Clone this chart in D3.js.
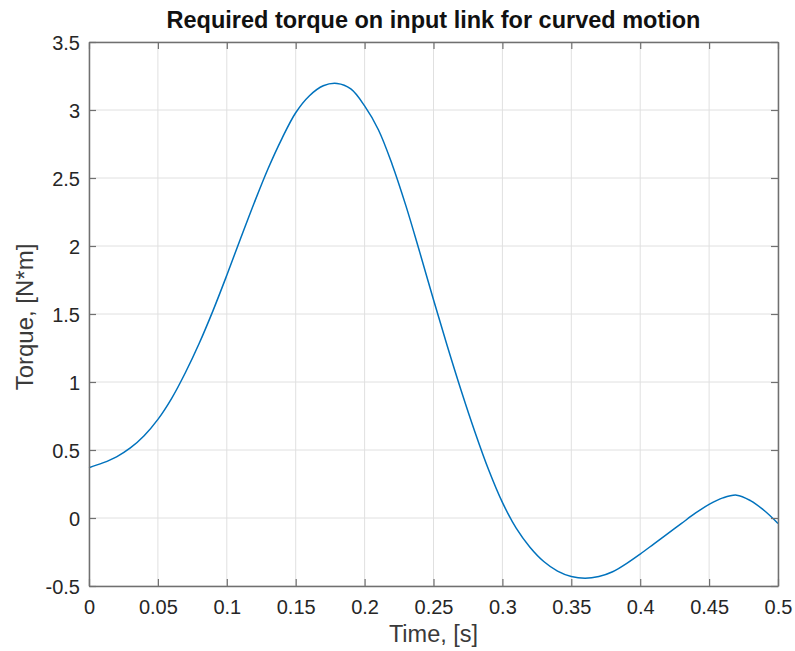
<!DOCTYPE html>
<html>
<head>
<meta charset="utf-8">
<script src="https://cdn.jsdelivr.net/npm/d3@7"></script>
<style>
  body { margin: 0; background: #fff; }
  text { font-family: "Liberation Sans", Arial, sans-serif; fill: #262626; }
</style>
</head>
<body>
<svg id="chart" width="795" height="651"></svg>
<script>
// time samples [s] and torque values [N*m]
const time = [0, 0.01, 0.02, 0.03, 0.04, 0.05, 0.06, 0.07, 0.08, 0.09,
  0.10, 0.11, 0.12, 0.13, 0.14, 0.15, 0.16, 0.17, 0.18, 0.19,
  0.20, 0.21, 0.22, 0.23, 0.24, 0.25, 0.26, 0.27, 0.28, 0.29,
  0.30, 0.31, 0.32, 0.33, 0.34, 0.35, 0.36, 0.37, 0.38, 0.39,
  0.40, 0.41, 0.42, 0.43, 0.44, 0.45, 0.46, 0.47, 0.48, 0.49, 0.50];
const torque = [0.37, 0.405, 0.45, 0.515, 0.605, 0.725, 0.88, 1.07, 1.285, 1.525,
  1.785, 2.055, 2.32, 2.57, 2.79, 2.98, 3.105, 3.178, 3.195, 3.155,
  3.03, 2.855, 2.60, 2.295, 1.955, 1.605, 1.265, 0.94, 0.635, 0.355,
  0.115, -0.075, -0.215, -0.32, -0.39, -0.43, -0.443, -0.43, -0.395, -0.335,
  -0.265, -0.19, -0.115, -0.04, 0.035, 0.10, 0.148, 0.168, 0.128, 0.055, -0.04];

const xTicks = [0, 0.05, 0.1, 0.15, 0.2, 0.25, 0.3, 0.35, 0.4, 0.45, 0.5];
const yTicks = [-0.5, 0, 0.5, 1, 1.5, 2, 2.5, 3, 3.5];

const svg = d3.select("#chart");
const plotL = 89, plotR = 778, plotT = 42, plotB = 586;

const x = d3.scaleLinear().domain([0, 0.5]).range([plotL, plotR]);
const y = d3.scaleLinear().domain([-0.5, 3.5]).range([plotB, plotT]);

const axisColor = "#707070";
const fmt = d => String(d);

// grid
svg.append("g")
    .selectAll("line")
    .data(xTicks)
    .enter()
    .append("line")
    .attr("x1", d => x(d)).attr("x2", d => x(d))
    .attr("y1", plotT).attr("y2", plotB)
    .attr("stroke", "#e0e0e0").attr("stroke-width", 1);
svg.append("g")
    .selectAll("line")
    .data(yTicks)
    .enter()
    .append("line")
    .attr("x1", plotL).attr("x2", plotR)
    .attr("y1", d => y(d)).attr("y2", d => y(d))
    .attr("stroke", "#e0e0e0").attr("stroke-width", 1);

// data line
const line = d3.line()
    .x((d, i) => x(time[i]))
    .y(d => y(d))
    .curve(d3.curveCatmullRom.alpha(0.5));

svg.append("path")
    .datum(torque)
    .attr("d", line)
    .attr("fill", "none")
    .attr("stroke", "#0072bd")
    .attr("stroke-width", 1.5);

// axes with inward ticks on all four sides
const tickLen = 7;
const xBottom = svg.append("g")
    .attr("transform", `translate(0,${plotB})`)
    .call(d3.axisBottom(x).tickValues(xTicks).tickFormat(fmt).tickSizeInner(-tickLen).tickSizeOuter(0).tickPadding(12));
const xTop = svg.append("g")
    .attr("transform", `translate(0,${plotT})`)
    .call(d3.axisTop(x).tickValues(xTicks).tickFormat("").tickSizeInner(-tickLen).tickSizeOuter(0));
const yLeft = svg.append("g")
    .attr("transform", `translate(${plotL},0)`)
    .call(d3.axisLeft(y).tickValues(yTicks).tickFormat(fmt).tickSizeInner(-tickLen).tickSizeOuter(0).tickPadding(9));
const yRight = svg.append("g")
    .attr("transform", `translate(${plotR},0)`)
    .call(d3.axisRight(y).tickValues(yTicks).tickFormat("").tickSizeInner(-tickLen).tickSizeOuter(0));

[xBottom, xTop, yLeft, yRight].forEach(g => {
    g.select(".domain").attr("stroke", axisColor).attr("stroke-width", 1.5);
    g.selectAll(".tick line").attr("stroke", axisColor).attr("stroke-width", 1.2);
    g.selectAll(".tick text")
        .attr("fill", "#3a3a3a")
        .style("font-family", "'Liberation Sans', Arial, sans-serif")
        .style("font-size", "20px");
});
xBottom.selectAll(".tick text").attr("y", 0).attr("dy", 0).attr("transform", "translate(0,28)");
yLeft.selectAll(".tick text").attr("dy", "0.36em");

// title and labels
svg.append("text")
    .attr("x", (plotL + plotR) / 2)
    .attr("y", 28)
    .attr("text-anchor", "middle")
    .style("font-size", "23.5px")
    .style("font-weight", "bold")
    .style("fill", "#111")
    .text("Required torque on input link for curved motion");

svg.append("text")
    .attr("x", (plotL + plotR) / 2)
    .attr("y", 642)
    .attr("text-anchor", "middle")
    .style("font-size", "23.5px")
    .style("fill", "#3a3a3a")
    .text("Time, [s]");

svg.append("text")
    .attr("transform", `translate(33,${(plotT + plotB) / 2 + 3}) rotate(-90)`)
    .attr("text-anchor", "middle")
    .style("font-size", "24px")
    .style("fill", "#3a3a3a")
    .text("Torque, [N*m]");
</script>
</body>
</html>
